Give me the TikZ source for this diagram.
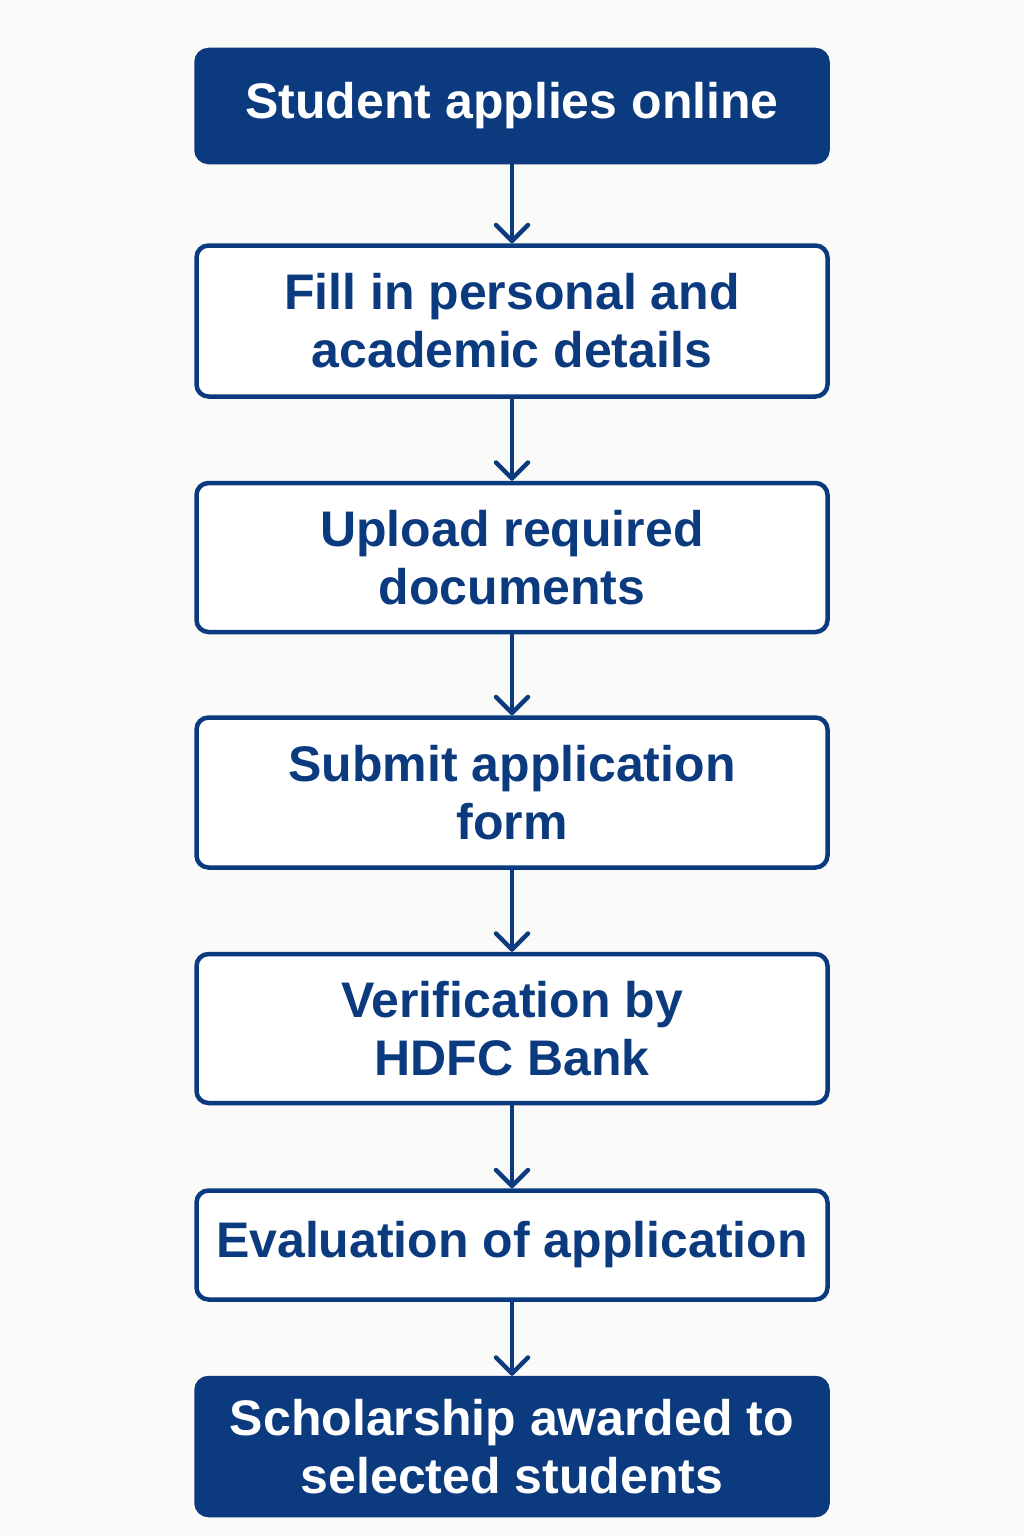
\documentclass[tikz,border=0pt]{standalone}
\usepackage{fontspec}
\setmainfont{Liberation Sans}
\usetikzlibrary{positioning,arrows.meta}
\definecolor{navy}{HTML}{0B3A7E}
\definecolor{paper}{HTML}{FAFAF8}

\tikzset{
  stepbase/.style={rectangle, rounded corners=12pt, line width=4.5pt, draw=navy,
    minimum width=631pt, align=center, inner sep=0pt,
    font=\fontsize{50}{58}\selectfont\bfseries},
  stepfill/.style={stepbase, fill=navy, text=white},
  stepline/.style={stepbase, fill=white, text=navy},
  flow/.style={draw=navy, line width=4.5pt,
    -{Straight Barb[length=16pt,width=32pt,line cap=round,line join=round]}}
}

\begin{document}
\begin{tikzpicture}[x=1pt,y=1pt]
    \fill[paper] (0,0) rectangle (1024,-1536);
    \useasboundingbox (0,0) rectangle (1024,-1536);

    % steps of the application
    \node[stepfill, minimum height=112pt] (apply) at (512,-106) {Student applies online};
    \node[stepline, minimum height=151pt, below=79pt of apply] (details) {Fill in personal and\\academic details};
    \node[stepline, minimum height=149pt, below=82pt of details] (upload) {Upload required\\documents};
    \node[stepline, minimum height=150pt, below=81pt of upload] (submit) {Submit application\\form};
    \node[stepline, minimum height=149pt, below=82pt of submit] (verify) {Verification by\\HDFC Bank};
    \node[stepline, minimum height=109pt, below=83pt of verify] (evaluate) {Evaluation of application};
    \node[stepfill, minimum height=137pt, below=74pt of evaluate] (award) {Scholarship awarded to\\selected students};

    % arrows between steps
    \draw[flow] (apply) -- (details);
    \draw[flow] (details) -- (upload);
    \draw[flow] (upload) -- (submit);
    \draw[flow] (submit) -- (verify);
    \draw[flow] (verify) -- (evaluate);
    \draw[flow] (evaluate) -- (award);
\end{tikzpicture}
\end{document}
